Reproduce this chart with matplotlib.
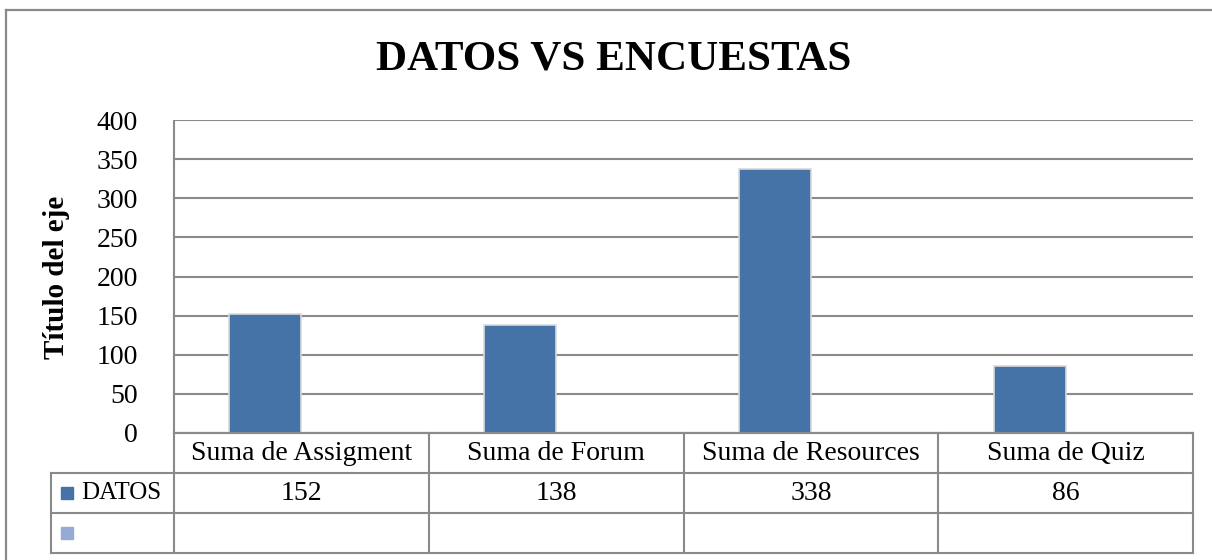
import numpy as np
import matplotlib.pyplot as plt
from matplotlib.lines import Line2D
from matplotlib.patches import Rectangle

# data
categories = ["Suma de Assigment", "Suma de Forum", "Suma de Resources", "Suma de Quiz"]
datos = [152, 138, 338, 86]
serie2 = [None, None, None, None]  # second series is empty in the source
serie_names = ["DATOS", ""]
yticks = [0, 50, 100, 150, 200, 250, 300, 350, 400]

W, H = 1212, 560
plt.rcParams["font.family"] = ["Liberation Serif", "DejaVu Serif"]
grey = "#8a8a8a"
bar_col = "#4572A7"
bar_col2 = "#95ABD6"
fs = 20

fig = plt.figure(figsize=(W / 100, H / 100), dpi=100)
fig.patch.set_facecolor("white")


def fx(px):
    return px / W


def fy(py):
    return 1 - py / H


# outer chart border (left and top only, the rest is cut off)
fig.add_artist(Line2D([fx(6), fx(6)], [fy(10), 0], color=grey, lw=1.6))
fig.add_artist(Line2D([fx(6), 1], [fy(10), fy(10)], color=grey, lw=1.6))

# plot area
L, R, T, B = 174, 1193, 120, 433
ax = fig.add_axes([fx(L), fy(B), fx(R - L), (B - T) / H])
x = np.arange(len(categories))
bw = 72 / ((R - L) / 4)
ax.bar(x + 0.5 - bw, datos, width=bw, align="edge", color=bar_col,
       edgecolor="#d9d9d9", linewidth=1.2, zorder=3)
ax.set_xlim(0, 4)
ax.set_ylim(0, 400)
ax.set_yticks(yticks)
ax.set_xticks([])
ax.tick_params(axis="y", length=0, pad=26, labelsize=fs)
ax.yaxis.grid(True, color=grey, lw=1.5)
ax.set_axisbelow(True)
for s in ["top", "right"]:
    ax.spines[s].set_visible(False)
for s in ["left", "bottom"]:
    ax.spines[s].set_color(grey)
    ax.spines[s].set_linewidth(1.5)
    ax.spines[s].set_capstyle("butt")

fig.text(fx(56), fy(277), "Título del eje", rotation=90, ha="center",
         va="center", fontsize=21, fontweight="bold")
fig.text(fx(614), fy(60), "DATOS VS ENCUESTAS", ha="center", va="center",
         fontsize=31, fontweight="bold")

# data table below the plot
TL, TB = 51, 553
legw = (L - TL) / ((R - L) / 4)
tax = fig.add_axes([fx(TL), fy(TB), fx(R - TL), (TB - B) / H])
tax.set_xlim(-legw, 4)
tax.set_ylim(3, 0)
tax.axis("off")
lk = dict(color=grey, lw=1.5, clip_on=False)
tax.plot([0, 4], [0, 0], **lk)
for r in [1, 2, 3]:
    tax.plot([-legw, 4], [r, r], **lk)
tax.plot([-legw, -legw], [1, 3], **lk)
for c in range(5):
    tax.plot([c, c], [0, 3], **lk)

for i, cat in enumerate(categories):
    tax.text(i + 0.5, 0.5, cat, ha="center", va="center", fontsize=fs)
    tax.text(i + 0.5, 1.5, str(datos[i]), ha="center", va="center", fontsize=fs)
    if serie2[i] is not None:
        tax.text(i + 0.5, 2.5, str(serie2[i]), ha="center", va="center", fontsize=fs)

sq = 12 / ((R - L) / 4)
sqh = 12 / 40
for r, (name, col) in enumerate(zip(serie_names, [bar_col, bar_col2])):
    x0 = -legw + 10 / ((R - L) / 4)
    tax.add_patch(Rectangle((x0, r + 1.5 - sqh / 2), sq, sqh, color=col, clip_on=False))
    tax.text(-legw + 30 / ((R - L) / 4), r + 1.5, name, ha="left", va="center",
             fontsize=18)

fig.savefig("out.png", dpi=100)
